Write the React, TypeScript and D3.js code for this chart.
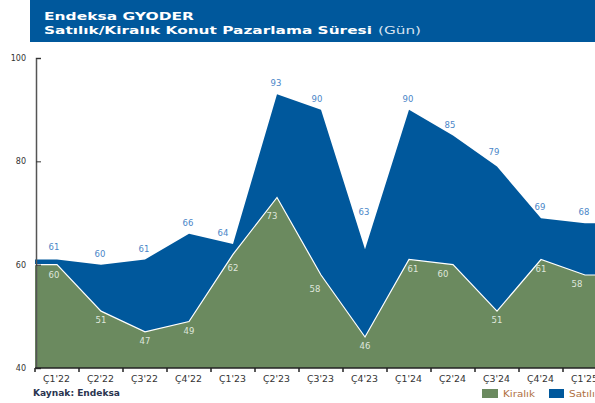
import React, { useRef, useEffect } from 'react';
import * as d3 from 'd3';

const categories = ["Ç1'22", "Ç2'22", "Ç3'22", "Ç4'22", "Ç1'23", "Ç2'23", "Ç3'23", "Ç4'23", "Ç1'24", "Ç2'24", "Ç3'24", "Ç4'24", "Ç1'25"];
const satilik = [61, 60, 61, 66, 64, 93, 90, 63, 90, 85, 79, 69, 68];
const kiralik = [60, 51, 47, 49, 62, 73, 58, 46, 61, 60, 51, 61, 58];
const yTicks = [40, 60, 80, 100];

const BLUE = '#00589c';
const GREEN = '#6b8a5f';

// label nudges where the default spot would sit on a mark
const satNudge: Record<number, [number, number]> = { 0: [-2, -2], 4: [-9, 0], 6: [-3, 0], 7: [0, -26], 9: [-2, 0], 10: [-2, -4] };
const kirNudge: Record<number, [number, number]> = { 0: [-3, 1], 4: [0, 5], 5: [-5, 9], 6: [-6, 5], 8: [4, 0], 9: [-10, 0], 12: [-8, 0] };

const App = () => {
    const ref = useRef<SVGSVGElement | null>(null);

    useEffect(() => {
        const svg = d3.select(ref.current);
        svg.selectAll('*').remove();
        const font = "'DejaVu Sans', Verdana, sans-serif";

        const x = d3.scaleBand().domain(categories).range([35, 35 + 44 * categories.length]);
        const y = d3.scaleLinear().domain([40, 100]).range([368, 58]);
        const cx = (c: string) => (x(c) as number) + x.bandwidth() / 2;

        // header (source image is stretched wide, so text is stretched too)
        svg.append('rect').attr('x', 30).attr('y', 0).attr('width', 565).attr('height', 42).attr('fill', BLUE);
        const title = svg.append('g').attr('font-family', font).attr('font-weight', 700).attr('font-size', 11).attr('fill', '#fff');
        title.append('text').attr('x', 44).attr('y', 20).attr('textLength', 150).attr('lengthAdjust', 'spacingAndGlyphs').text('Endeksa GYODER');
        title.append('text').attr('x', 44).attr('y', 34).attr('textLength', 328).attr('lengthAdjust', 'spacingAndGlyphs')
            .text('Satılık/Kiralık Konut Pazarlama Süresi');
        title.append('text').attr('x', 378).attr('y', 34).attr('font-weight', 400).attr('fill', '#d6e2f0')
            .attr('textLength', 43).attr('lengthAdjust', 'spacingAndGlyphs').text('(Gün)');

        const build = (vals: number[]) => {
            const pts: [number, number][] = categories.map((c, i) => [cx(c), vals[i]]);
            const first: [number, number] = [x.range()[0], vals[0]];
            const last: [number, number] = [x.range()[1], vals[vals.length - 1]];
            return [first, ...pts, last];
        };

        const area = d3.area<[number, number]>().x(d => d[0]).y0(y(40)).y1(d => y(d[1]));
        const line = d3.line<[number, number]>().x(d => d[0]).y(d => y(d[1]));

        svg.append('path').datum(build(satilik)).attr('d', area).attr('fill', BLUE);
        svg.append('path').datum(build(kiralik)).attr('d', area).attr('fill', GREEN);
        svg.append('path').datum(build(kiralik)).attr('d', line).attr('fill', 'none').attr('stroke', '#fff').attr('stroke-width', 1.2);

        // labels
        const lab = svg.append('g').attr('font-family', font).attr('font-size', 8.5).attr('text-anchor', 'middle');
        categories.forEach((c, i) => {
            const [sdx, sdy] = satNudge[i] || [0, 0];
            const [kdx, kdy] = kirNudge[i] || [0, 0];
            lab.append('text').attr('x', cx(c) - 1 + sdx).attr('y', y(satilik[i]) - 8 + sdy).attr('fill', '#4a86c8').text(satilik[i]);
            lab.append('text').attr('x', cx(c) + kdx).attr('y', y(kiralik[i]) + 12 + kdy).attr('fill', '#dfe6dc').text(kiralik[i]);
        });

        // axes
        const yAxis = svg.append('g').attr('transform', 'translate(36,0)')
            .call(d3.axisRight(y).tickValues(yTicks).tickSize(5).tickFormat(d3.format('d')));
        yAxis.select('.domain').attr('stroke', '#555').attr('stroke-width', 1.5);
        yAxis.selectAll('.tick line').attr('stroke', '#333');
        yAxis.selectAll('.tick text').attr('x', -10).attr('text-anchor', 'end').attr('font-family', font).attr('font-size', 8).attr('fill', '#333');

        svg.append('line').attr('x1', 35).attr('x2', 595).attr('y1', 368).attr('y2', 368).attr('stroke', '#222').attr('stroke-width', 1.5);
        const tickXs = categories.map(c => x(c) as number);
        svg.append('g').selectAll('line').data(tickXs).join('line')
            .attr('x1', d => d).attr('x2', d => d).attr('y1', 368).attr('y2', 372).attr('stroke', '#222').attr('stroke-width', 1.5);
        svg.append('g').attr('font-family', font).attr('font-size', 8.5).attr('fill', '#333')
            .selectAll('text').data(categories).join('text')
            .attr('x', d => cx(d) - 14).attr('y', 382)
            .attr('textLength', 27).attr('lengthAdjust', 'spacingAndGlyphs').text(d => d);

        // source + legend
        svg.append('text').attr('x', 33).attr('y', 396).attr('font-family', font).attr('font-size', 8).attr('font-weight', 700)
            .attr('fill', '#2a3550').attr('textLength', 87).attr('lengthAdjust', 'spacingAndGlyphs').text('Kaynak: Endeksa');
        const leg = svg.append('g').attr('font-family', font).attr('font-size', 8).attr('fill', '#b0703f');
        leg.append('rect').attr('x', 482).attr('y', 389).attr('width', 16).attr('height', 9).attr('fill', GREEN);
        leg.append('text').attr('x', 503).attr('y', 397).attr('textLength', 32).attr('lengthAdjust', 'spacingAndGlyphs').text('Kiralık');
        leg.append('rect').attr('x', 549).attr('y', 389).attr('width', 15).attr('height', 9).attr('fill', BLUE);
        leg.append('text').attr('x', 569).attr('y', 397).attr('textLength', 32).attr('lengthAdjust', 'spacingAndGlyphs').text('Satılık');
    }, []);

    return (
        <svg ref={ref} width={595} height={403} style={{ position: 'absolute', left: 0, top: 0, background: '#fff' }} />
    );
};

export default App;
